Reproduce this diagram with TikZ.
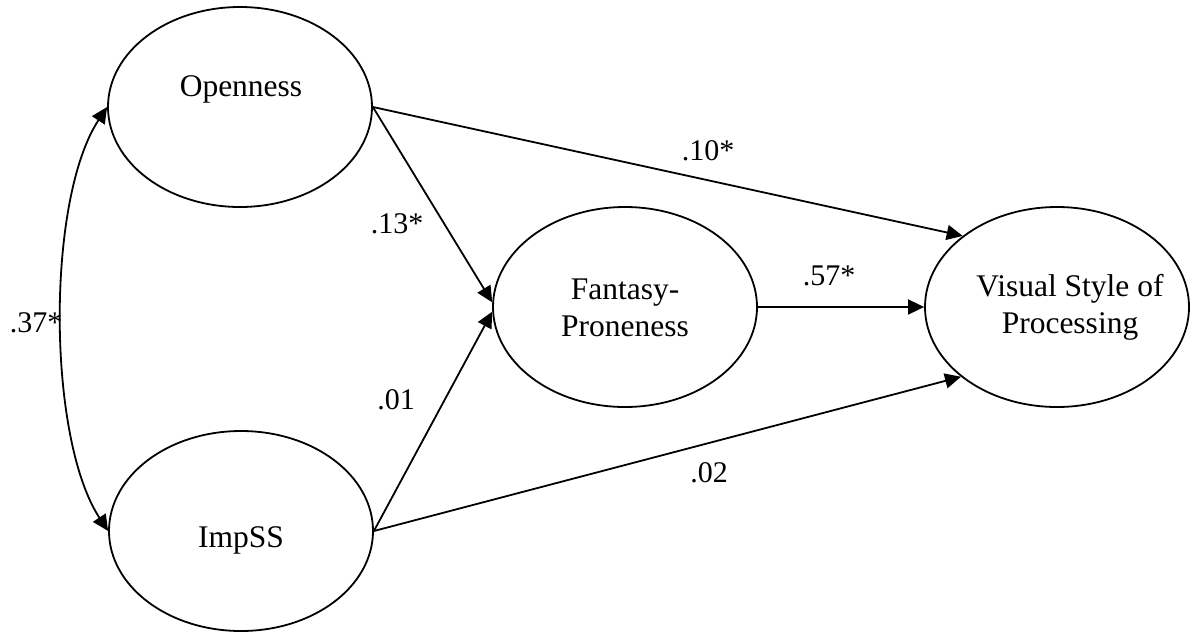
\documentclass[tikz,border=0pt]{standalone}
\usepackage{fontspec}
\setmainfont{Liberation Serif}
\usetikzlibrary{shapes.geometric,arrows.meta}
\begin{document}
\begin{tikzpicture}[x=1pt,y=-1pt,
  latent/.style={draw,ellipse,line width=1.8pt,minimum width=264pt,minimum height=200pt,inner sep=0pt},
  txt/.style={inner sep=0pt,align=center,font=\fontsize{31.5}{37}\selectfont},
  lab/.style={inner sep=0pt,font=\fontsize{30}{36}\selectfont},
  path/.style={line width=1.8pt,-{Triangle[length=16pt,width=15pt]}},
  dblpath/.style={line width=1.8pt,{Triangle[length=16pt,width=15pt]}-{Triangle[length=16pt,width=15pt]}}]
\useasboundingbox (0,0) rectangle (1191,632);
\node[latent] (O) at (240,107) {};
\node[latent] (I) at (241,531) {};
\node[latent] (F) at (625,307) {};
\node[latent] (V) at (1057,307) {};
\node[txt] (Ot) at (241,89) {Openness};
\node[txt] (It) at (241,540) {ImpSS};
\node[txt] (Ft) at (625,308) {Fantasy-\\Proneness};
\node[txt] (Vt) at (1070,307) {Visual Style of\\Processing};
\draw[path] (O.east) -- (V.143.4);
\draw[path] (O.east) -- (F.178);
\draw[path] (I.east) -- (F.182);
\draw[path] (I.east) -- (V.216);
\draw[path] (F.east) -- (V.west);
\draw[dblpath] (O.west) .. controls +(-61,93) and +(-61,-93) .. (I.west);
\node[lab] (l10) at (708,151) {.10*};
\node[lab] (l57) at (829,276) {.57*};
\node[lab] (l02) at (709,473) {.02};
\node[lab] (l13) at (397,224) {.13*};
\node[lab] (l01) at (396,400) {.01};
\node[lab] (l37) at (36,323) {.37*};
\end{tikzpicture}
\end{document}
